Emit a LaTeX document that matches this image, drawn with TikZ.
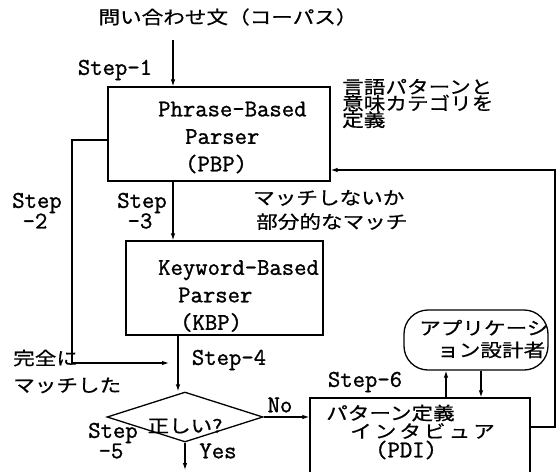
\documentclass[tikz,border=0pt]{standalone}
\usepackage{fontspec}
\newfontfamily\jp[FakeStretch=1.2,FakeBold=0.6]{Noto Sans CJK JP}
\newfontfamily\ttb[FakeBold=1.2]{Latin Modern Mono}
\usetikzlibrary{arrows.meta,shapes.geometric}
\newcommand\tightlines{\lineskiplimit=-30pt\lineskip=0pt\relax}
\tikzset{
  arr/.style={line width=1.1pt,-{Latex[length=7pt,width=4.5pt]}},
  boxnode/.style={draw,line width=1.3pt,rectangle,inner sep=0pt},
  tt/.style={font=\fontsize{24}{27.5}\selectfont\ttb,inner sep=0pt},
  jt/.style={font=\fontsize{18}{20}\selectfont\jp,inner sep=0pt},
}
\begin{document}
\begin{tikzpicture}[x=1pt,y=-1pt]
\useasboundingbox (0,0) rectangle (558,472);
\clip (0,0) rectangle (558,472);
\fill[white] (0,0) rectangle (558,472);

% boxes
\node[boxnode,minimum width=222pt,minimum height=94pt] (pbp) at (219,134) {};
\node[boxnode,minimum width=197pt,minimum height=94pt] (kbp) at (224.5,288) {};
\node[boxnode,minimum width=220pt,minimum height=92pt] (pdi) at (420,444) {};
\node[boxnode,rounded corners=24pt,minimum width=144pt,minimum height=60pt] (app) at (476,340) {};
\node[draw,diamond,line width=1.3pt,inner sep=0pt,minimum width=156pt,minimum height=50pt] (dia) at (185,417) {};

% texts
\node[jt] (title) at (228,17) {問い合わせ文（コーパス）};
\node[tt] (s1) at (115,70) {Step-1};
\node[tt,anchor=west,align=left] (pbptxt) at (158,137.5) {Phrase-Based\\\hspace*{27pt}Parser\\\hspace*{27pt}(PBP)};
\node[jt,anchor=west,align=left,font=\fontsize{18}{16.5}\selectfont\tightlines\jp] (def) at (342,103.5) {言語パターンと\\意味カテゴリを\\定義};
\node[tt] (s2a) at (37,203) {Step};
\node[tt] (s2b) at (35,221) {-2};
\node[tt] (s3a) at (142,203) {Step};
\node[tt] (s3b) at (140,221) {-3};
\node[jt,anchor=west,align=left,font=\fontsize{18}{24}\selectfont\jp] (nm) at (253,210) {マッチしないか\\\hspace*{3pt}部分的なマッチ};
\node[tt,anchor=west,align=left] (kbptxt) at (158,296) {Keyword-Based\\\hspace*{20pt}Parser\\\hspace*{22pt}(KBP)};
\node[tt] (s4) at (229,360) {Step-4};
\node[jt,anchor=west,align=left,font=\fontsize{18}{27}\selectfont\jp] (full) at (13,371.5) {完全に\\マッチした};
\node[jt] (ok) at (185,426) {正しい?};
\node[tt] (s5a) at (113,433) {Step};
\node[tt] (s5b) at (111,451) {-5};
\node[tt] (yes) at (218,451) {Yes};
\node[tt] (no) at (280,405) {No};
\node[tt] (s6) at (365,382) {Step-6};
\node[jt,anchor=west] (pdi1) at (326,413) {パターン定義};
\node[jt,anchor=west] (pdi2) at (350,431) {イ\kern3pt ン\kern3pt タ\kern3pt ビ\kern3pt ュ\kern3pt ア};
\node[tt,anchor=west] (pdi3) at (375,450) {(PDI)};
\node[jt,anchor=west,align=left,font=\fontsize{18}{22}\selectfont\jp] (apptxt) at (419,339) {アプリケーシ\\\hspace*{18pt}ョン設計者};

% connectors
\coordinate (t1) at (173,40);
\coordinate (t2) at (178,0);
\coordinate (lx) at (72,140);
\coordinate (join) at (169,363);
\coordinate (out) at (185,470);
\coordinate (ua) at (446,0);
\coordinate (da) at (481,0);
\coordinate (fb) at (555,427);
\coordinate (fy) at (0,170);

\draw[arr] (t1) -- (t1 |- pbp.north);
\draw[arr] (pbp.south -| t1) -- (kbp.north -| t1);
\draw[arr] (kbp.south -| t2) -- (t2 |- dia.north);
\draw[arr] (pbp.west |- lx) -- (lx) -- (lx |- join) -- (join);
\draw[arr] (dia.east) -- (dia.east -| pdi.west);
\draw[arr] (dia.south) -- (out);
\draw[arr] (pdi.north -| ua) -- (app.south -| ua);
\draw[arr] (app.south -| da) -- (pdi.north -| da);
\draw[arr] (pdi.east |- fb) -- (fb) -- (fb |- fy) -- (pbp.east |- fy);
\end{tikzpicture}
\end{document}
